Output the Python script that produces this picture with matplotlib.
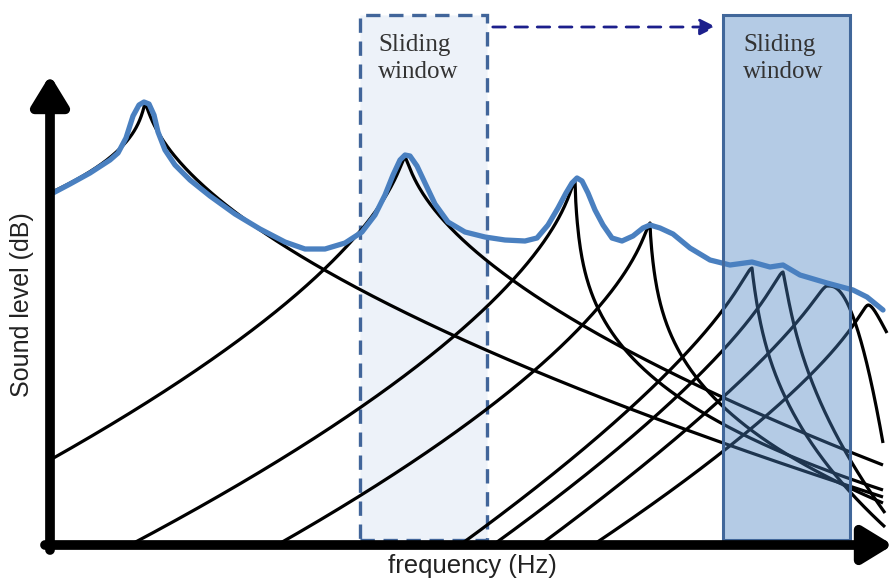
import numpy as np
import matplotlib
matplotlib.use('Agg')
import matplotlib.pyplot as plt
from matplotlib.patches import Rectangle, FancyArrowPatch

# filter responses (frequency / level in arbitrary units, origin at the axes corner)
start_f = [0, 0, 80, 227, 410, 443, 490, 543]
start_L = [352, 85, 0, 0, 0, 0, 0, 0]
peak_f = [95, 355, 525, 600, 702, 733, 777, 818]
peak_L = [442, 388, 365, 322, 277, 273, 259, 240]
end_f = [833, 833, 833, 833, 835, 835, 833, 837]
end_L = [48, 80, 55, 42, 18, 32, 102, 212]
rise_exp = [0.47, 0.65, 0.64, 0.65, 0.75, 0.75, 0.8, 0.75]
fall_exp = [0.6, 0.6, 0.32, 0.35, 0.45, 0.55, 1.8, 1.0]
peak_round = [4, 5, 4, 5, 7, 7, 7, 6]

# hand-drawn envelope (blue)
env_f = [3, 20, 40, 60, 68, 76, 83, 89, 94, 99, 104, 108, 115, 125, 140, 160,
         185, 210, 235, 255, 275, 295, 312, 325, 335, 343, 350, 355, 360, 367,
         375, 385, 398, 415, 435, 455, 475, 487, 498, 508, 516, 522, 527, 532,
         538, 545, 553, 562, 572, 583, 593, 600, 610, 623, 640, 660, 680, 702,
         720, 733, 750, 777, 803, 817, 833]
env_L = [352, 361, 372, 385, 392, 407, 429, 440, 443, 441, 430, 413, 395, 380,
         365, 349, 331, 316, 303, 296, 296, 302, 313, 330, 350, 370, 385, 390,
         389, 379, 362, 341, 323, 313, 308, 305, 304, 307, 320, 337, 352, 362,
         367, 364, 352, 335, 320, 307, 304, 309, 317, 320, 317, 311, 297, 285,
         280, 283, 278, 280, 270, 262, 255, 248, 235]

win1 = (310, 437)
win2 = (673, 800)


def branch(d, D, p, e):
    ds = np.sqrt(d ** 2 + e ** 2) - e
    Ds = np.sqrt(D ** 2 + e ** 2) - e
    return (ds / Ds) ** p


fig = plt.figure(figsize=(8.91, 5.78), dpi=100)
ax = fig.add_axes([0, 0, 1, 1])
ax.set_xlim(-50, 841)
ax.set_ylim(-33, 545)
ax.axis('off')

# first (dashed) window, behind the curves
ax.add_patch(Rectangle((win1[0], 5), win1[1] - win1[0], 525, facecolor='#edf2f9',
                       edgecolor='#41659a', lw=2.4, ls=(0, (4.3, 2.6)), zorder=1))

for i in range(len(peak_f)):
    fr = np.linspace(start_f[i], peak_f[i], 300)
    Lr = peak_L[i] - (peak_L[i] - start_L[i]) * branch(peak_f[i] - fr, peak_f[i] - start_f[i],
                                                       rise_exp[i], peak_round[i])
    fd = np.linspace(peak_f[i], end_f[i], 400)
    Ld = peak_L[i] - (peak_L[i] - end_L[i]) * branch(fd - peak_f[i], end_f[i] - peak_f[i],
                                                     fall_exp[i], peak_round[i])
    ax.plot(np.r_[fr, fd], np.r_[Lr, Ld], color='black', lw=2.3, zorder=2,
            solid_capstyle='butt')

ax.plot(env_f, env_L, color='#4a80c0', lw=3.8, zorder=3, solid_joinstyle='round',
        solid_capstyle='round')

# second window drawn on top, semi-transparent
ax.add_patch(Rectangle((win2[0], 5), win2[1] - win2[0], 525,
                       facecolor=(0.29, 0.51, 0.76, 0.41), edgecolor='#41679a', lw=2.2, zorder=4))

for x0 in (win1[0] + 18, win2[0] + 20):
    ax.text(x0, 511, 'Sliding\nwindow', family='Liberation Serif', fontsize=18,
            color='#333333', va='top', ha='left', linespacing=1.3, zorder=6)

ax.add_patch(FancyArrowPatch((win1[1] + 3, 518), (win2[0] - 4, 518),
                             arrowstyle='-|>,head_length=0.7,head_width=0.35', mutation_scale=14,
                             color='#1c1f8c', lw=2.0, ls=(0, (4.5, 3.5)), zorder=6))

# axes arrows
ax.add_patch(FancyArrowPatch((0, -5), (0, 470), arrowstyle='-|>,head_length=0.9,head_width=0.55',
                             mutation_scale=20, color='black', lw=7, zorder=7, shrinkA=0, shrinkB=0))
ax.add_patch(FancyArrowPatch((-5, 0), (843, 0), arrowstyle='-|>,head_length=0.9,head_width=0.55',
                             mutation_scale=20, color='black', lw=7, zorder=7, shrinkA=0, shrinkB=0))

ax.text(-28, 240, 'Sound level (dB)', rotation=90, ha='center', va='center',
        family='Liberation Sans', fontsize=18, color='#222222')
ax.text(422, -21, 'frequency (Hz)', ha='center', va='center',
        family='Liberation Sans', fontsize=18.5, color='#222222')

fig.savefig('out.png', dpi=100)
